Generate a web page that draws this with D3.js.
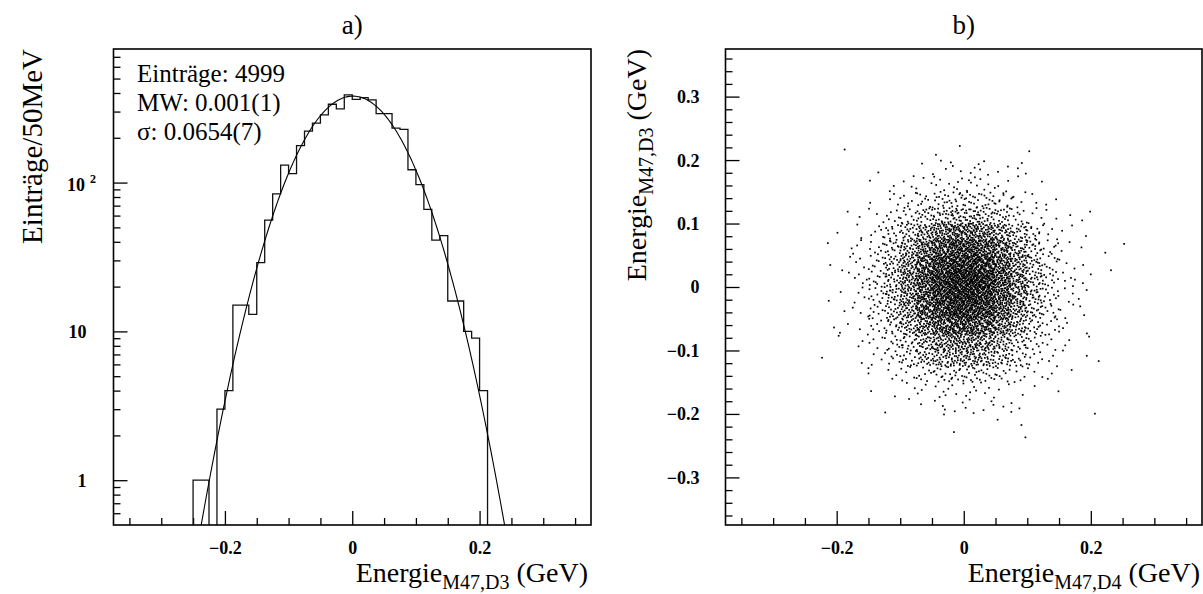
<!DOCTYPE html>
<html>
<head>
<meta charset="utf-8">
<script src="https://cdn.jsdelivr.net/npm/d3@7"></script>
<style>
  body { margin: 0; background: #fff; }
  svg { display: block; }
</style>
</head>
<body>
<svg id="chart" width="1203" height="594"></svg>
<script>
// ---- Panel a: histogram of Energie M47,D3 (60 bins of 12.5 MeV, -0.375 .. 0.375 GeV)
const histLow = -0.375;
const histBinWidth = 0.0125;
const histCounts = [
  0, 0, 0, 0, 0, 0, 0, 0, 0, 0,
  1, 1, 0, 3, 4, 15, 15, 13, 29, 56,
  84, 131, 115, 177, 222, 251, 285, 336, 313, 388,
  362, 372, 359, 291, 291, 232, 228, 122, 97, 66,
  41, 44, 16, 16, 10, 9, 4, 0, 0, 0,
  0, 0, 0, 0, 0, 0, 0, 0, 0, 0
];
// Gaussian fit results
const fitEntries = 4999;
const fitMean = 0.001;
const fitSigma = 0.0654;
const statLines = ["Einträge: 4999", "MW: 0.001(1)", "σ: 0.0654(7)"];

// axis ticks
const energyTicks = [-0.2, 0, 0.2];
const energyMinorTicks = [-0.35, -0.3, -0.25, -0.15, -0.1, -0.05, 0.05, 0.1, 0.15, 0.25, 0.3, 0.35];
const logTicks = [1, 10, 100];
const logMinorTicks = [0.6, 0.7, 0.8, 0.9, 2, 3, 4, 5, 6, 7, 8, 9, 20, 30, 40, 50, 60, 70, 80, 90, 200, 300, 400, 500, 600, 700];
const scatterYTicks = [-0.3, -0.2, -0.1, 0, 0.1, 0.2, 0.3];
const scatterYMinorTicks = [-0.36, -0.34, -0.32, -0.28, -0.26, -0.24, -0.22, -0.18, -0.16, -0.14, -0.12,
  -0.08, -0.06, -0.04, -0.02, 0.02, 0.04, 0.06, 0.08, 0.12, 0.14, 0.16, 0.18, 0.22, 0.24, 0.26, 0.28, 0.32, 0.34, 0.36];

// ---- Panel b: entries per 25x25 MeV cell, Energie M47,D4 (columns, from -0.25)
//      versus Energie M47,D3 (rows, top row starts at 0.225 going down)
const cellSize = 0.025;
const gridLeft = -0.25;
const gridTop = 0.225;
const scatterGrid = [
  [0,0,1,0,0,0,0,0,1,1,0,0,0,0,1,0,0,0,0,0,0],
  [0,0,0,0,1,0,0,1,3,3,3,3,2,3,0,0,0,0,0,0,0],
  [0,0,0,0,1,2,3,3,4,5,5,4,3,1,1,0,0,0,0,0,0],
  [0,0,0,0,1,3,6,9,12,13,13,11,8,5,2,2,0,0,0,0,0],
  [0,0,1,1,3,6,11,16,22,26,25,21,14,8,4,2,1,2,0,0,0],
  [0,0,1,2,5,11,20,34,47,55,56,47,33,21,11,4,2,1,0,0,0],
  [0,1,1,3,7,16,31,51,70,82,82,70,50,31,16,7,2,1,1,0,1],
  [0,1,2,3,9,20,39,63,88,101,101,88,63,39,20,8,3,1,0,1,0],
  [0,0,1,4,10,23,44,72,100,112,112,100,72,44,23,10,4,3,0,0,0],
  [0,1,1,4,10,22,42,68,95,108,108,95,68,42,22,10,3,2,0,0,0],
  [0,0,1,3,9,19,37,60,84,97,97,84,60,37,19,9,3,2,0,0,0],
  [0,1,2,2,6,15,28,46,63,74,75,63,46,28,14,6,3,1,0,0,0],
  [0,0,1,2,4,9,17,28,39,46,46,39,28,17,9,4,2,1,0,0,0],
  [0,1,0,1,3,7,13,21,29,33,34,29,20,12,6,3,1,1,1,0,0],
  [0,0,0,1,1,3,5,8,11,13,13,11,8,5,3,2,1,0,0,0,0],
  [0,0,0,0,1,1,2,3,4,4,4,4,2,1,1,1,0,0,0,0,0],
  [0,0,0,0,0,1,1,1,3,2,3,3,2,2,0,0,0,0,1,0,0],
  [0,0,0,0,0,0,0,0,1,0,0,0,1,1,0,0,0,0,0,0,0],
  [0,0,0,0,0,0,0,0,0,1,0,0,0,1,0,0,0,0,0,0,0]
];

// ---------------------------------------------------------------
const serif = "'Liberation Serif', 'Times New Roman', serif";
const svg = d3.select("#chart").style("font-family", serif);
const frameA = { x0: 113.5, x1: 591, y0: 49, y1: 525 };
const frameB = { x0: 725.5, x1: 1202, y0: 49, y1: 525 };

const xA = d3.scaleLinear([-0.375, 0.375], [frameA.x0, frameA.x1]);
const yA = d3.scaleLog([0.5, 790], [frameA.y1, frameA.y0]);
const xB = d3.scaleLinear([-0.375, 0.375], [frameB.x0, frameB.x1]);
const yB = d3.scaleLinear([-0.375, 0.375], [frameB.y1, frameB.y0]);

const defs = svg.append("defs");
defs.append("clipPath").attr("id", "clipA").append("rect")
  .attr("x", frameA.x0).attr("y", frameA.y0)
  .attr("width", frameA.x1 - frameA.x0).attr("height", frameA.y1 - frameA.y0);

function font(sel, size, weight) {
  sel.style("font-family", serif).style("font-size", size + "px")
    .style("font-weight", weight || "normal").style("fill", "#000");
}
function styleAxis(g) {
  g.attr("font-family", null).attr("font-size", null);
  g.select(".domain").remove();
  g.selectAll(".tick line").attr("stroke", "#000").attr("stroke-width", 1.3);
}

// bottom axis with major + minor inward ticks
function bottomAxis(x, frame) {
  svg.append("g").attr("transform", `translate(0,${frame.y1})`)
    .call(d3.axisBottom(x).tickValues(energyMinorTicks).tickSize(-7).tickFormat(""))
    .call(styleAxis);
  const g = svg.append("g").attr("transform", `translate(0,${frame.y1})`)
    .call(d3.axisBottom(x).tickValues(energyTicks).tickSize(-14).tickPadding(0)
      .tickFormat(d => d === 0 ? "0" : d3.format(".1f")(d)))
    .call(styleAxis);
  g.selectAll(".tick text").call(font, 18, "bold").attr("y", 29).attr("dy", null);
}

// ---------------- Panel a ----------------
bottomAxis(xA, frameA);

svg.append("g").attr("transform", `translate(${frameA.x0},0)`)
  .call(d3.axisLeft(yA).tickValues(logMinorTicks).tickSize(-7).tickFormat(""))
  .call(styleAxis);
const gyA = svg.append("g").attr("transform", `translate(${frameA.x0},0)`)
  .call(d3.axisLeft(yA).tickValues(logTicks).tickSize(-14).tickPadding(27)
    .tickFormat(d => d === 100 ? "" : String(d)))
  .call(styleAxis);
gyA.selectAll(".tick text").call(font, 18, "bold").attr("dy", "0.33em");
// power-of-ten label with superscript
gyA.selectAll(".tick").filter(d => d === 100).append("text")
  .call(font, 18, "bold").attr("x", -46.5).attr("y", 7.5).attr("text-anchor", "start")
  .call(t => {
    t.append("tspan").text("10");
    t.append("tspan").attr("dx", 5).attr("dy", -8).style("font-size", "12px").text("2");
  });

// histogram outline
const plotA = svg.append("g").attr("clip-path", "url(#clipA)");
const stepPts = [];
histCounts.forEach((c, i) => {
  const xl = histLow + i * histBinWidth;
  const yv = c > 0 ? yA(c) : frameA.y1 + 5;
  stepPts.push([xA(xl), yv], [xA(xl + histBinWidth), yv]);
});
plotA.append("path").attr("d", d3.line()(stepPts))
  .attr("fill", "none").attr("stroke", "#111").attr("stroke-width", 1.3);

// fitted Gaussian
const amp = fitEntries * histBinWidth / (Math.sqrt(2 * Math.PI) * fitSigma);
const gauss = x => amp * Math.exp(-((x - fitMean) ** 2) / (2 * fitSigma ** 2));
const fitX = d3.range(-0.375, 0.3751, 0.0025);
plotA.append("path")
  .attr("d", d3.line().defined(x => gauss(x) > 0.3)
    .x(x => xA(x)).y(x => yA(gauss(x)))(fitX))
  .attr("fill", "none").attr("stroke", "#000").attr("stroke-width", 1.1);

// statistics box text
svg.append("g").selectAll("text").data(statLines).join("text")
  .attr("x", 137).attr("y", (d, i) => 82 + i * 29)
  .call(font, 25).text(d => d);

// frame
svg.append("rect").attr("x", frameA.x0).attr("y", frameA.y0)
  .attr("width", frameA.x1 - frameA.x0).attr("height", frameA.y1 - frameA.y0)
  .attr("fill", "none").attr("stroke", "#000").attr("stroke-width", 1.6);

// titles
svg.append("text").attr("x", (frameA.x0 + frameA.x1) / 2).attr("y", 34)
  .attr("text-anchor", "middle").call(font, 27).text("a)");
svg.append("text").attr("transform", "translate(42,49) rotate(-90)")
  .attr("text-anchor", "end").call(font, 29).text("Einträge/50MeV");

function energyTitle(g, sub) {
  g.call(font, 28);
  g.append("tspan").text("Energie");
  g.append("tspan").style("font-size", "20px").attr("dy", 7).text(sub);
  g.append("tspan").attr("dy", -7).text(" (GeV)");
}
svg.append("text").attr("x", 588).attr("y", 582).attr("text-anchor", "end")
  .call(t => energyTitle(t, "M47,D3"));

// ---------------- Panel b ----------------
bottomAxis(xB, frameB);

svg.append("g").attr("transform", `translate(${frameB.x0},0)`)
  .call(d3.axisLeft(yB).tickValues(scatterYMinorTicks).tickSize(-7).tickFormat(""))
  .call(styleAxis);
const gyB = svg.append("g").attr("transform", `translate(${frameB.x0},0)`)
  .call(d3.axisLeft(yB).tickValues(scatterYTicks).tickSize(-14).tickPadding(26)
    .tickFormat(d => d === 0 ? "0" : d3.format(".1f")(d)))
  .call(styleAxis);
gyB.selectAll(".tick text").call(font, 18, "bold").attr("dy", "0.33em");

// scatter: each cell's entries spread over the cell with a Halton sequence
function halton(i, b) {
  let f = 1, r = 0;
  while (i > 0) { f /= b; r += f * (i % b); i = Math.floor(i / b); }
  return r;
}
const pts = [];
let hi = 1;
scatterGrid.forEach((row, r) => {
  const yTop = gridTop - r * cellSize;
  row.forEach((n, c) => {
    const xLeft = gridLeft + c * cellSize;
    for (let k = 0; k < n; k++, hi++) {
      pts.push([xLeft + halton(hi, 2) * cellSize, yTop - halton(hi, 3) * cellSize]);
    }
  });
});
svg.append("g").selectAll("rect").data(pts).join("rect")
  .attr("x", d => xB(d[0]) - 0.85).attr("y", d => yB(d[1]) - 0.85)
  .attr("width", 1.7).attr("height", 1.7).attr("fill", "#000");

svg.append("rect").attr("x", frameB.x0).attr("y", frameB.y0)
  .attr("width", frameB.x1 - frameB.x0).attr("height", frameB.y1 - frameB.y0)
  .attr("fill", "none").attr("stroke", "#000").attr("stroke-width", 1.6);

svg.append("text").attr("x", (frameB.x0 + frameB.x1) / 2).attr("y", 34)
  .attr("text-anchor", "middle").call(font, 27).text("b)");
svg.append("text").attr("x", 1200).attr("y", 582).attr("text-anchor", "end")
  .call(t => energyTitle(t, "M47,D4"));
svg.append("text").attr("transform", "translate(646,49) rotate(-90)")
  .attr("text-anchor", "end").call(t => energyTitle(t, "M47,D3"));
</script>
</body>
</html>
